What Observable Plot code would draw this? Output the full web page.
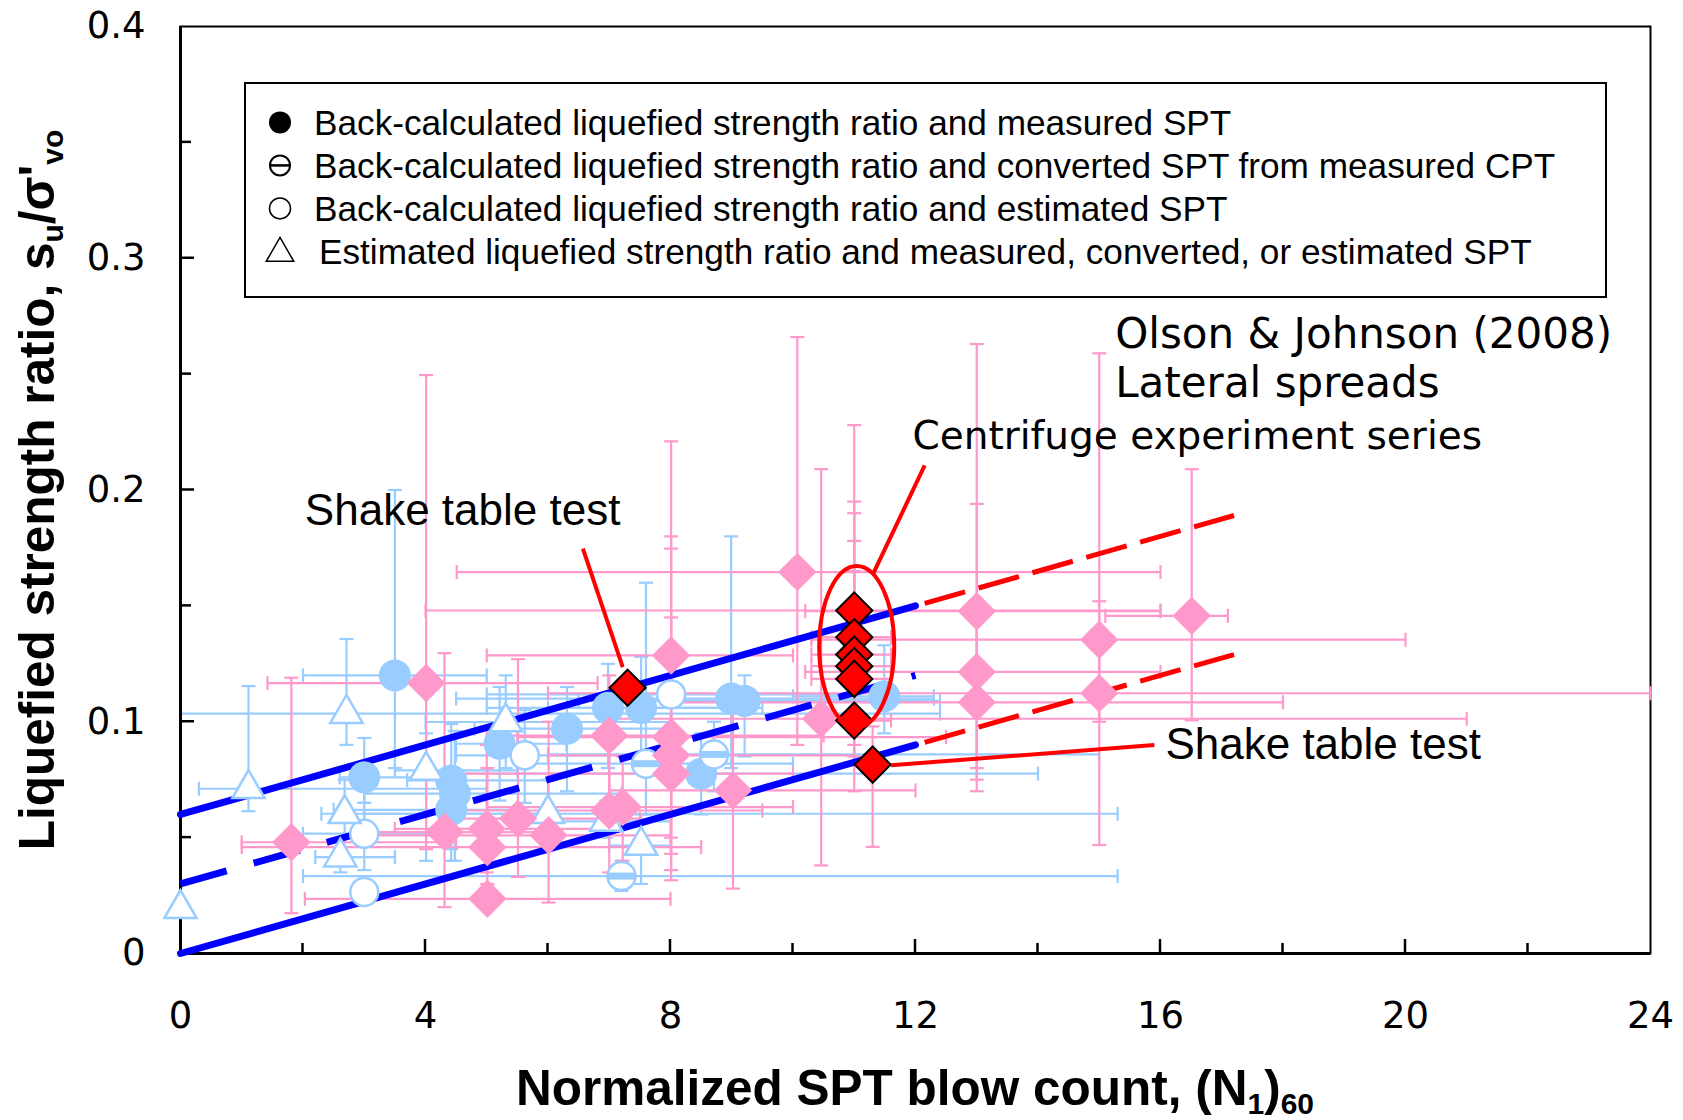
<!DOCTYPE html>
<html><head><meta charset="utf-8">
<script src="https://cdn.jsdelivr.net/npm/d3@7"></script>
<script src="https://cdn.jsdelivr.net/npm/@observablehq/plot@0.6"></script>
<style>body{margin:0;background:#fff;}</style>
</head><body><div id="chart"></div>
<script>
// ---------- data ----------
const blueFilled = [
  {x:3.50,y:0.120,x1:2.0,x2:5.0,y1:0.080,y2:0.200},
  {x:3.00,y:0.076,x1:2.6,x2:4.5,y1:0.065,y2:0.093},
  {x:4.42,y:0.0747,x1:3.7,x2:6.0,y1:0.045,y2:0.099},
  {x:4.48,y:0.069,x1:3.0,x2:7.2,y1:0.040,y2:0.096},
  {x:4.42,y:0.062,x1:2.5,x2:5.5,y1:0.040,y2:0.080},
  {x:5.21,y:0.0905,x1:4.5,x2:6.3,y1:0.066,y2:0.115},
  {x:6.31,y:0.097,x1:4.8,x2:8.0,y1:0.070,y2:0.115},
  {x:6.98,y:0.106,x1:5.0,x2:9.0,y1:0.080,y2:0.125},
  {x:7.52,y:0.106,x1:6.0,x2:9.5,y1:0.085,y2:0.128},
  {x:8.99,y:0.110,x1:4.5,x2:12.3,y1:0.080,y2:0.180},
  {x:9.21,y:0.109,x1:6.5,x2:12.4,y1:0.085,y2:0.120},
  {x:8.50,y:0.0776,x1:4.0,x2:14.0,y1:0.060,y2:0.095},
  {x:11.49,y:0.111,x1:10.0,x2:12.3,y1:0.095,y2:0.133}
];
const whiteCircles = [
  {x:8.01,y:0.1118,x1:5.0,x2:11.0,y1:0.095,y2:0.125},
  {x:5.62,y:0.0855,x1:4.5,x2:7.0,y1:0.065,y2:0.105},
  {x:3.00,y:0.0517,x1:2.0,x2:4.5,y1:0.036,y2:0.065},
  {x:3.00,y:0.0265}
];
const cptCircles = [
  {x:7.60,y:0.0819,x1:5.5,x2:10.0,y1:0.060,y2:0.160},
  {x:8.71,y:0.0859,x1:6.0,x2:15.0,y1:0.070,y2:0.100},
  {x:7.20,y:0.0334,x1:2.0,x2:15.3,y1:0.027,y2:0.040}
];
const triangles = [
  {x:0.00,y:0.0193},
  {x:1.11,y:0.0711,x1:0.3,x2:5.0,y1:0.0614,y2:0.1154},
  {x:2.71,y:0.1035,x1:0.0,x2:12.4,y1:0.090,y2:0.1357},
  {x:2.68,y:0.0603,x1:2.3,x2:6.0,y1:0.050,y2:0.075},
  {x:2.61,y:0.0416,x1:2.2,x2:3.5,y1:0.035,y2:0.048},
  {x:4.01,y:0.079,x1:3.5,x2:5.5,y1:0.040,y2:0.095},
  {x:5.31,y:0.0999,x1:4.0,x2:8.0,y1:0.080,y2:0.120},
  {x:6.00,y:0.0603,x1:3.0,x2:15.3,y1:0.045,y2:0.075},
  {x:6.95,y:0.057,x1:6.0,x2:8.0,y1:0.050,y2:0.066},
  {x:7.52,y:0.0466,x1:7.0,x2:8.0,y1:0.030,y2:0.060}
];
const pinkDiamonds = [
  {x:1.81,y:0.048,x1:1.0,x2:4.5,y1:0.0174,y2:0.119},
  {x:4.01,y:0.1167,x1:1.42,x2:6.81,y1:0.045,y2:0.2496},
  {x:4.31,y:0.0524,x1:3.0,x2:6.0,y1:0.020,y2:0.1296},
  {x:5.00,y:0.0538,x1:3.5,x2:7.0,y1:0.035,y2:0.090},
  {x:5.01,y:0.0459,x1:1.0,x2:8.5,y1:0.030,y2:0.080},
  {x:5.01,y:0.0236,x1:2.03,x2:8.0,y1:0.020,y2:0.030},
  {x:5.51,y:0.0582,x1:4.5,x2:7.5,y1:0.033,y2:0.127},
  {x:6.01,y:0.051,x1:3.0,x2:8.0,y1:0.022,y2:0.100},
  {x:7.00,y:0.094,x1:5.0,x2:10.5,y1:0.060,y2:0.120},
  {x:7.00,y:0.0617,x1:4.5,x2:9.5,y1:0.035,y2:0.090},
  {x:7.22,y:0.0632,x1:5.0,x2:10.0,y1:0.040,y2:0.085},
  {x:8.01,y:0.1286,x1:5.0,x2:10.0,y1:0.0316,y2:0.221},
  {x:8.01,y:0.0934,x1:5.5,x2:12.5,y1:0.036,y2:0.180},
  {x:8.01,y:0.0855,x1:6.0,x2:11.0,y1:0.043,y2:0.1747},
  {x:8.01,y:0.0776,x1:4.0,x2:10.0,y1:0.050,y2:0.145},
  {x:9.02,y:0.0704,x1:7.0,x2:12.0,y1:0.028,y2:0.110},
  {x:10.07,y:0.1646,x1:4.51,x2:16.0,y1:0.090,y2:0.266},
  {x:10.46,y:0.1013,x1:7.0,x2:21.0,y1:0.038,y2:0.209},
  {x:13.00,y:0.1477,x1:10.2,x2:16.0,y1:0.070,y2:0.263},
  {x:13.00,y:0.1215,x1:10.2,x2:16.0,y1:0.080,y2:0.194},
  {x:13.00,y:0.1084,x1:8.0,x2:18.0,y1:0.075,y2:0.150},
  {x:15.00,y:0.1354,x1:10.3,x2:20.0,y1:0.100,y2:0.259},
  {x:15.00,y:0.1123,x1:6.0,x2:24.0,y1:0.0468,y2:0.152},
  {x:16.51,y:0.1457,x1:15.1,x2:17.1,y1:0.1006,y2:0.209}
];
const redCentrifuge = [
  {x:11.0,y:0.148,x1:4.0,x2:16.0,y1:0.120,y2:0.228},
  {x:11.0,y:0.1365,x1:10.3,x2:11.6,y1:0.100,y2:0.195},
  {x:11.0,y:0.129,x1:10.3,x2:11.6,y1:0.095,y2:0.190},
  {x:11.0,y:0.124,x1:10.3,x2:11.6,y1:0.090,y2:0.178},
  {x:11.0,y:0.1185,x1:10.3,x2:11.6,y1:0.085,y2:0.165},
  {x:11.0,y:0.1005,x1:10.3,x2:11.6,y1:0.070,y2:0.140}
];
const redShake = [
  {x:7.30,y:0.1147},
  {x:11.30,y:0.0815,y1:0.046,y2:0.098}
];
// trend lines (end points)
const upperBound = [[0,0.06],[12,0.15]];
const centerLine = [[0,0.03],[12,0.12]];
const lowerBound = [[0,0.0],[12,0.09]];
const upperExt = [[12.15,0.1511],[17.2,0.189]];
const lowerExt = [[12.15,0.0911],[17.2,0.129]];
// annotations
const ellipseCenter = [{x:11.04,y:0.1325}];
const leaders = [
  {x1:6.57,y1:0.1747,x2:7.22,y2:0.1236},
  {x1:12.15,y1:0.2106,x2:11.31,y2:0.1639},
  {x1:15.9,y1:0.090,x2:11.6,y2:0.0812}
];
const shakeLabels = [
  {x:2.03,y:0.1908,label:"Shake table test"},
  {x:16.08,y:0.0898,label:"Shake table test"}
];
const sourceLabels = [
  {x:15.26,y:0.2672,label:"Olson & Johnson (2008)"},
  {x:15.26,y:0.2459,label:"Lateral spreads"}
];
const centrifugeLabel = [{x:11.95,y:0.2232,label:"Centrifuge experiment series"}];
const xLabelTicks = [0,4,8,12,16,20,24];
const xMinorTicks = [2,4,6,8,10,12,14,16,18,20,22];
const yLabelTicks = [0,0.1,0.2,0.3,0.4];
const yMinorTicks = [0.05,0.1,0.15,0.2,0.25,0.3,0.35];
const legendItems = [
  {kind:"filled",label:"Back-calculated liquefied strength ratio and measured SPT"},
  {kind:"theta",label:"Back-calculated liquefied strength ratio and converted SPT from measured CPT"},
  {kind:"open",label:"Back-calculated liquefied strength ratio and estimated SPT"},
  {kind:"triangle",label:"Estimated liquefied strength ratio and measured, converted, or estimated SPT"}
];

// ---------- styles ----------
const PINK = "#ff99cc", LBLUE = "#99ccff";
const hcap = {draw(c, s){const r=Math.sqrt(s/Math.PI); c.moveTo(-r,0); c.lineTo(r,0);}};
const vcap = {draw(c, s){const r=Math.sqrt(s/Math.PI); c.moveTo(0,-r); c.lineTo(0,r);}};
const ellipseSym = {draw(c){
  const rx=37.5, ry=80.5, k=0.5523;
  c.moveTo(rx,0);
  c.bezierCurveTo(rx,ry*k,rx*k,ry,0,ry);
  c.bezierCurveTo(-rx*k,ry,-rx,ry*k,-rx,0);
  c.bezierCurveTo(-rx,-ry*k,-rx*k,-ry,0,-ry);
  c.bezierCurveTo(rx*k,-ry,rx,-ry*k,rx,0);
  c.closePath();
}};
function errorMarks(data, color) {
  const h = data.filter(d => d.x1 != null && d.x2 != null && d.x1 !== d.x2);
  const v = data.filter(d => d.y1 != null && d.y2 != null && d.y1 !== d.y2);
  const o = {stroke: color, strokeWidth: 2.2};
  return [
    Plot.ruleY(h, {y:"y", x1:"x1", x2:"x2", ...o}),
    Plot.ruleX(v, {x:"x", y1:"y1", y2:"y2", ...o}),
    Plot.dot(h, {x:"x1", y:"y", symbol:vcap, r:7, fill:"none", ...o}),
    Plot.dot(h, {x:"x2", y:"y", symbol:vcap, r:7, fill:"none", ...o}),
    Plot.dot(v, {x:"x", y:"y1", symbol:hcap, r:7, fill:"none", ...o}),
    Plot.dot(v, {x:"x", y:"y2", symbol:hcap, r:7, fill:"none", ...o})
  ];
}
const TICKFONT = "'DejaVu Sans', Verdana, sans-serif";
const ARIAL = "'Liberation Sans', Arial, sans-serif";

const plot = Plot.plot({
  width: 1683, height: 1120,
  marginLeft: 180, marginRight: 33, marginTop: 26, marginBottom: 167,
  x: {domain: [0, 24]},
  y: {domain: [0, 0.4]},
  style: {fontFamily: TICKFONT, fontSize: "37px", background: "white", color: "black"},
  marks: [
    Plot.frame({stroke: "black", strokeWidth: 2}),
    ...errorMarks([...blueFilled, ...whiteCircles, ...cptCircles, ...triangles], LBLUE),
    ...errorMarks([...pinkDiamonds, ...redCentrifuge, ...redShake], PINK),
    Plot.ruleX([0], {stroke: "black", strokeWidth: 3}),
    Plot.ruleY([0], {stroke: "black", strokeWidth: 3}),
    Plot.line(upperBound, {x: d => d[0], y: d => d[1], stroke: "#0000ff", strokeWidth: 7, strokeLinecap: "round"}),
    Plot.line(lowerBound, {x: d => d[0], y: d => d[1], stroke: "#0000ff", strokeWidth: 7, strokeLinecap: "round"}),
    Plot.line(centerLine, {x: d => d[0], y: d => d[1], stroke: "#0000ff", strokeWidth: 7, strokeLinecap: "butt", strokeDasharray: "48,28"}),
    Plot.line(upperExt, {x: d => d[0], y: d => d[1], stroke: "#ff0000", strokeWidth: 5, strokeLinecap: "butt", strokeDasharray: "42,14"}),
    Plot.line(lowerExt, {x: d => d[0], y: d => d[1], stroke: "#ff0000", strokeWidth: 5, strokeLinecap: "butt", strokeDasharray: "42,14"}),
    Plot.dot(blueFilled, {x: "x", y: "y", r: 16, fill: LBLUE, stroke: "none"}),
    Plot.dot(whiteCircles, {x: "x", y: "y", r: 14, fill: "white", stroke: LBLUE, strokeWidth: 2.5}),
    Plot.dot(cptCircles, {x: "x", y: "y", r: 14, fill: "white", stroke: LBLUE, strokeWidth: 2.5}),
    Plot.dot(cptCircles, {x: "x", y: "y", r: 14, symbol: hcap, fill: "none", stroke: LBLUE, strokeWidth: 7}),
    Plot.dot(triangles, {x: "x", y: "y", r: 12, symbol: "triangle", fill: "white", stroke: LBLUE, strokeWidth: 2.5}),
    Plot.dot(pinkDiamonds, {x: "x", y: "y", r: 17.3, symbol: "diamond2", fill: PINK, stroke: "none"}),
    Plot.dot(redCentrifuge, {x: "x", y: "y", r: 16.3, symbol: "diamond2", fill: "#ff0000", stroke: "black", strokeWidth: 2}),
    Plot.dot(redShake, {x: "x", y: "y", r: 16.3, symbol: "diamond2", fill: "#ff0000", stroke: "black", strokeWidth: 2}),
    Plot.dot(ellipseCenter, {x: "x", y: "y", symbol: ellipseSym, fill: "none", stroke: "#ff0000", strokeWidth: 4}),
    Plot.link(leaders, {x1: "x1", y1: "y1", x2: "x2", y2: "y2", stroke: "#ff0000", strokeWidth: 4}),
    Plot.text(shakeLabels, {x: "x", y: "y", text: "label", textAnchor: "start", lineAnchor: "middle", fontFamily: ARIAL, fontSize: 44, fill: "black"}),
    Plot.text(sourceLabels, {x: "x", y: "y", text: "label", textAnchor: "start", lineAnchor: "middle", fontFamily: TICKFONT, fontSize: 42, fill: "black"}),
    Plot.text(centrifugeLabel, {x: "x", y: "y", text: "label", textAnchor: "start", lineAnchor: "middle", fontFamily: TICKFONT, fontSize: 39, fill: "black"}),
    Plot.axisX({ticks: xLabelTicks, tickSize: 0, tickPadding: 48, label: null, tickFormat: d => String(d), fontSize: 37, fontFamily: TICKFONT}),
    Plot.axisY({ticks: yLabelTicks, tickSize: 0, tickPadding: 35, label: null, tickFormat: d => d === 0 ? "0" : d.toFixed(1), fontSize: 37, fontFamily: TICKFONT})
  ]
});
document.getElementById("chart").appendChild(plot);

// ---------- inward ticks, axis titles, legend ----------
const svg = d3.select(plot);
const sx = plot.scale("x"), sy = plot.scale("y");
const tg = svg.append("g").attr("stroke", "black").attr("stroke-width", 2.5);
const y0 = sy.apply(0), x0 = sx.apply(0);
for (const t of xMinorTicks) {
  const px = sx.apply(t), len = t % 4 === 0 ? 14 : 10;
  tg.append("line").attr("x1", px).attr("x2", px).attr("y1", y0).attr("y2", y0 - len);
}
for (const t of yMinorTicks) {
  const py = sy.apply(t), len = Math.abs(t * 10 - Math.round(t * 10)) < 1e-9 ? 14 : 11;
  tg.append("line").attr("x1", x0).attr("x2", x0 + len).attr("y1", py).attr("y2", py);
}

const xt = svg.append("text").attr("x", 915).attr("y", 1105).attr("text-anchor", "middle")
  .attr("font-family", ARIAL).attr("font-weight", "bold").attr("font-size", 49.5).attr("fill", "black");
xt.append("tspan").text("Normalized SPT blow count, (N");
xt.append("tspan").attr("font-size", 30).attr("dy", 9).text("1");
xt.append("tspan").attr("dy", -9).text(")");
xt.append("tspan").attr("font-size", 30).attr("dy", 9).text("60");

const yt = svg.append("text").attr("transform", "translate(54,490) rotate(-90)").attr("text-anchor", "middle")
  .attr("font-family", ARIAL).attr("font-weight", "bold").attr("font-size", 49.5).attr("fill", "black");
yt.append("tspan").text("Liquefied strength ratio, s");
yt.append("tspan").attr("font-size", 30).attr("dy", 9).text("u");
yt.append("tspan").attr("dy", -9).text("/σ'");
yt.append("tspan").attr("font-size", 30).attr("dy", 9).text("vo");

const lg = svg.append("g");
lg.append("rect").attr("x", 245).attr("y", 83).attr("width", 1361).attr("height", 214)
  .attr("fill", "white").attr("stroke", "black").attr("stroke-width", 2);
legendItems.forEach((it, i) => {
  const cy = 122.4 + i * 43, cx = 280;
  const g = lg.append("g").attr("transform", `translate(${cx},${cy})`);
  if (it.kind === "filled") g.append("circle").attr("r", 11).attr("fill", "black");
  if (it.kind === "theta") {
    g.append("circle").attr("r", 10).attr("fill", "white").attr("stroke", "black").attr("stroke-width", 2);
    g.append("line").attr("x1", -10).attr("x2", 10).attr("stroke", "black").attr("stroke-width", 2.5);
  }
  if (it.kind === "open") g.append("circle").attr("r", 10.5).attr("fill", "white").attr("stroke", "black").attr("stroke-width", 1.5);
  if (it.kind === "triangle") g.append("path").attr("d", d3.symbol(d3.symbolTriangle, 330)()).attr("transform", "translate(0,2)")
    .attr("fill", "white").attr("stroke", "black").attr("stroke-width", 1.5);
  lg.append("text").attr("x", it.kind === "triangle" ? 319 : 314).attr("y", cy).attr("dy", "0.35em")
    .attr("text-anchor", "start")
    .attr("font-family", ARIAL).attr("font-size", 35.2).attr("fill", "black").text(it.label);
});
</script>
</body></html>
